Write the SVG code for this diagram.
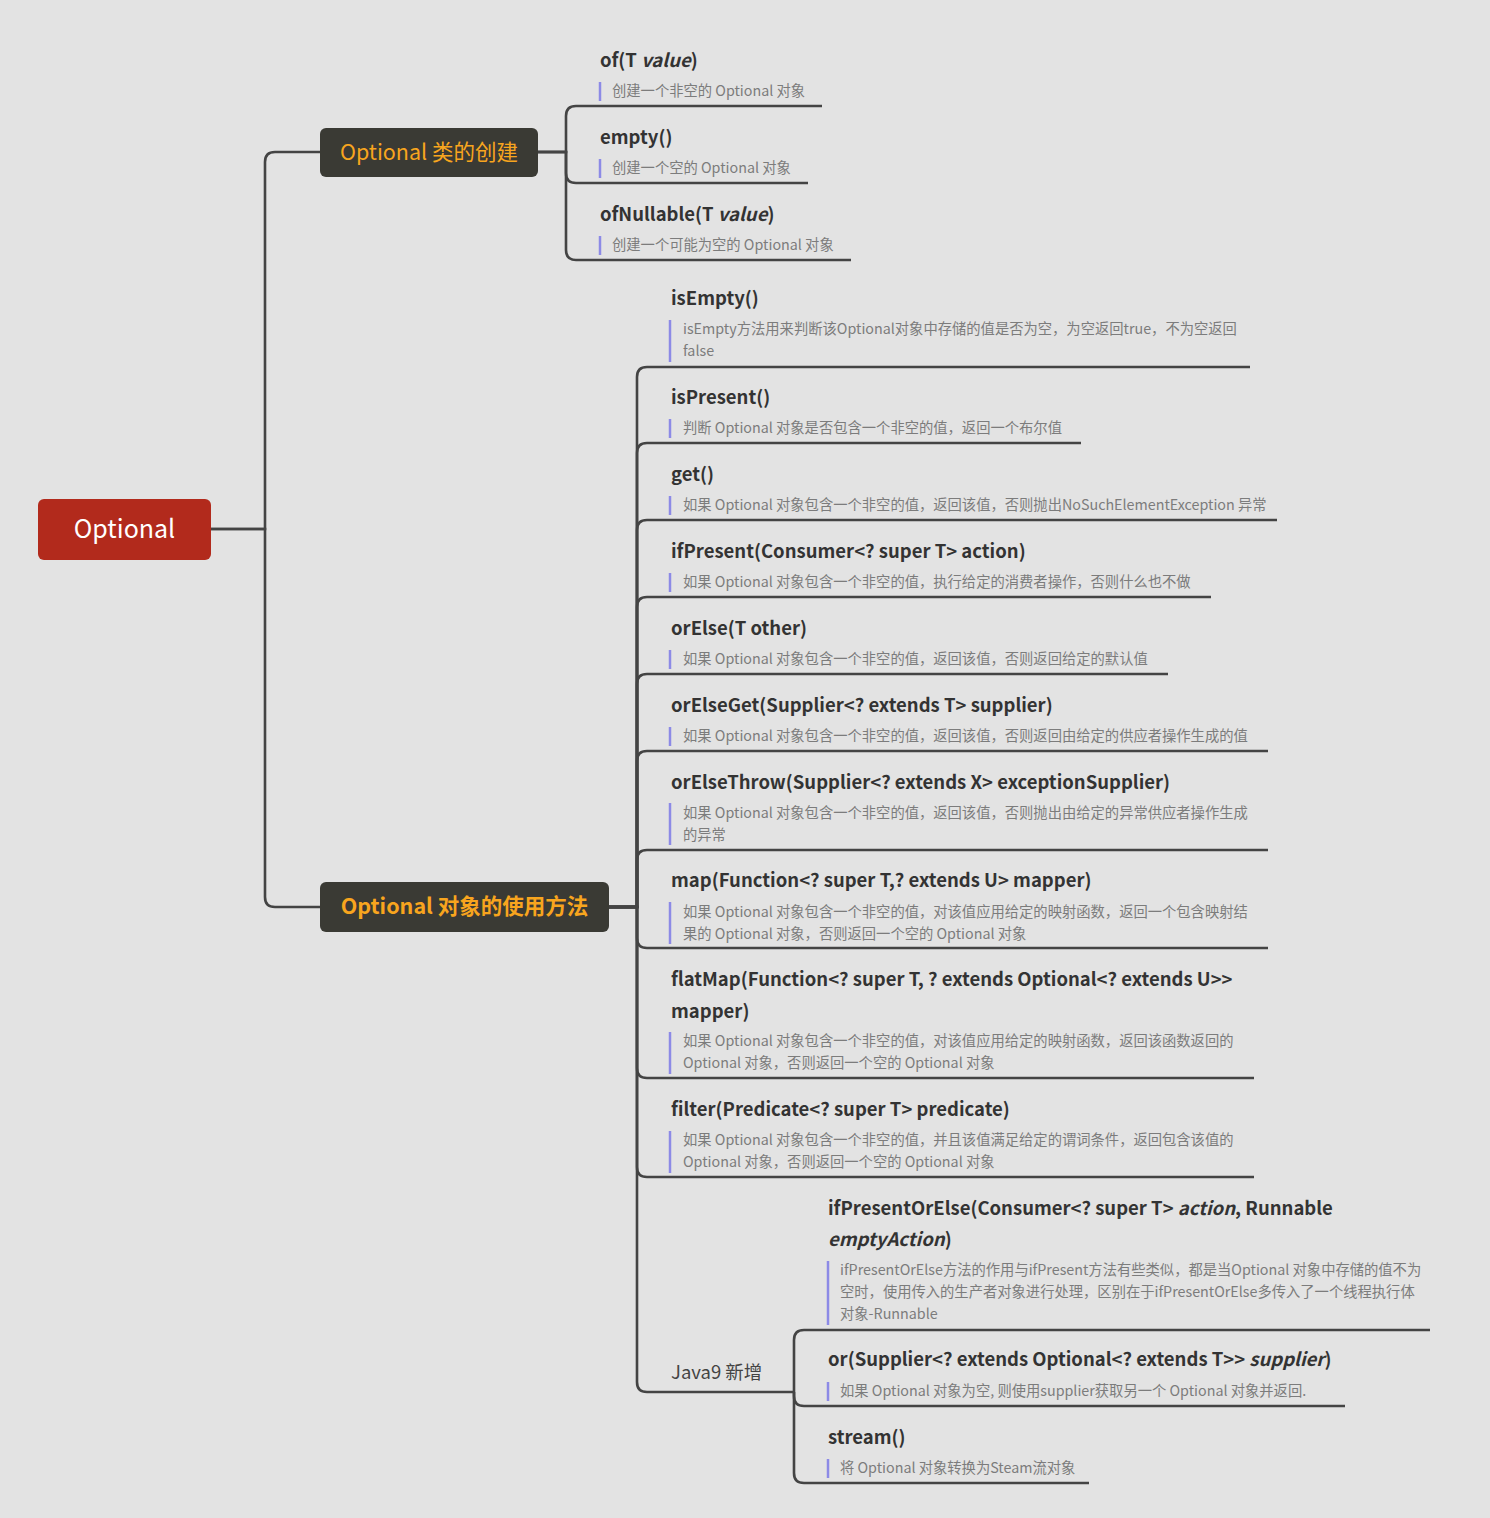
<svg xmlns="http://www.w3.org/2000/svg" width="1490" height="1518" viewBox="0 0 1490 1518">
<style>
.bg{fill:#E3E3E3}
.title{font-family:"Noto Sans CJK SC","Open Sans",sans-serif;font-size:18.5px;font-weight:bold;fill:#333}
.note{font-family:"Noto Sans CJK SC","Open Sans",sans-serif;font-size:14.3px;fill:#7C7C7C}
.bar{stroke:#8C8AE6;stroke-width:2.5}
.ul{stroke:#444;stroke-width:2.6;fill:none}
.conn{stroke:#444;stroke-width:2.6;fill:none}
.it{font-style:italic}
</style>
<rect class="bg" x="0" y="0" width="1490" height="1518"/>

<g id="connectors">
<path class="conn" d="M211,529 H265 V162 Q265,152 275,152 H320"/>
<path class="conn" d="M211,529 H265 V897 Q265,907 275,907 H320"/>
<path class="conn" d="M538,152 H566 V116 Q566,106 576,106"/>
<path class="conn" d="M538,152 H566 V173 Q566,183 576,183"/>
<path class="conn" d="M538,152 H566 V250 Q566,260 576,260"/>
<path class="conn" d="M609,907 H637 V377 Q637,367 647,367"/>
<path class="conn" d="M609,907 H637 V453 Q637,443 647,443"/>
<path class="conn" d="M609,907 H637 V530 Q637,520 647,520"/>
<path class="conn" d="M609,907 H637 V607 Q637,597 647,597"/>
<path class="conn" d="M609,907 H637 V684 Q637,674 647,674"/>
<path class="conn" d="M609,907 H637 V761 Q637,751 647,751"/>
<path class="conn" d="M609,907 H637 V860 Q637,850 647,850"/>
<path class="conn" d="M609,907 H637 V938 Q637,948 647,948"/>
<path class="conn" d="M609,907 H637 V1068 Q637,1078 647,1078"/>
<path class="conn" d="M609,907 H637 V1167 Q637,1177 647,1177"/>
<path class="conn" d="M609,907 H637 V1382 Q637,1392 647,1392"/>
<path class="conn" d="M794,1392 V1340 Q794,1330 804,1330"/>
<path class="conn" d="M794,1392 V1396 Q794,1406 804,1406"/>
<path class="conn" d="M794,1392 V1473 Q794,1483 804,1483"/>
</g>

<g id="root">
<rect x="38" y="499" width="173" height="61" rx="6" fill="#B22A1C"/>
<text x="124.5" y="538" text-anchor="middle" font-family="'Noto Sans CJK SC','Open Sans',sans-serif" font-size="25" fill="#FFFFFF">Optional</text>
</g>

<g id="branch-create">
<rect x="320" y="128" width="218" height="49" rx="6" fill="#3A3A34"/>
<text x="429" y="160" text-anchor="middle" font-family="'Noto Sans CJK SC','Open Sans',sans-serif" font-size="21.5" fill="#F8A51E">Optional 类的创建</text>
</g>

<g id="branch-usage">
<rect x="320" y="882" width="289" height="50" rx="6" fill="#3A3A34"/>
<text x="464.5" y="914" text-anchor="middle" font-family="'Noto Sans CJK SC','Open Sans',sans-serif" font-size="21.5" font-weight="bold" fill="#F8A51E">Optional 对象的使用方法</text>
</g>

<g id="n-of">
<text class="title" x="600" y="66.5">of(T <tspan class="it">value</tspan>)</text>
<line class="bar" x1="600" y1="82" x2="600" y2="101"/>
<text class="note" x="612" y="96">创建一个非空的 Optional 对象</text>
<path class="ul" d="M576,106 H822"/>
</g>

<g id="n-empty">
<text class="title" x="600" y="143.5">empty()</text>
<line class="bar" x1="600" y1="159" x2="600" y2="178"/>
<text class="note" x="612" y="173">创建一个空的 Optional 对象</text>
<path class="ul" d="M576,183 H808"/>
</g>

<g id="n-ofNullable">
<text class="title" x="600" y="220.5">ofNullable(T <tspan class="it">value</tspan>)</text>
<line class="bar" x1="600" y1="236" x2="600" y2="255"/>
<text class="note" x="612" y="250">创建一个可能为空的 Optional 对象</text>
<path class="ul" d="M576,260 H851"/>
</g>

<g id="n-isEmpty">
<text class="title" x="671" y="304.5">isEmpty()</text>
<line class="bar" x1="670" y1="320" x2="670" y2="362"/>
<text class="note" x="683" y="334">isEmpty方法用来判断该Optional对象中存储的值是否为空，为空返回true，不为空返回</text>
<text class="note" x="683" y="356">false</text>
<path class="ul" d="M647,367 H1250"/>
</g>

<g id="n-isPresent">
<text class="title" x="671" y="403.5">isPresent()</text>
<line class="bar" x1="670" y1="419" x2="670" y2="438"/>
<text class="note" x="683" y="433">判断 Optional 对象是否包含一个非空的值，返回一个布尔值</text>
<path class="ul" d="M647,443 H1081"/>
</g>

<g id="n-get">
<text class="title" x="671" y="480.5">get()</text>
<line class="bar" x1="670" y1="496" x2="670" y2="515"/>
<text class="note" x="683" y="510">如果 Optional 对象包含一个非空的值，返回该值，否则抛出NoSuchElementException 异常</text>
<path class="ul" d="M647,520 H1277"/>
</g>

<g id="n-ifPresent">
<text class="title" x="671" y="557.5">ifPresent(Consumer&lt;? super T&gt; action)</text>
<line class="bar" x1="670" y1="573" x2="670" y2="592"/>
<text class="note" x="683" y="587">如果 Optional 对象包含一个非空的值，执行给定的消费者操作，否则什么也不做</text>
<path class="ul" d="M647,597 H1211"/>
</g>

<g id="n-orElse">
<text class="title" x="671" y="634.5">orElse(T other)</text>
<line class="bar" x1="670" y1="650" x2="670" y2="669"/>
<text class="note" x="683" y="664">如果 Optional 对象包含一个非空的值，返回该值，否则返回给定的默认值</text>
<path class="ul" d="M647,674 H1168"/>
</g>

<g id="n-orElseGet">
<text class="title" x="671" y="711.5">orElseGet(Supplier&lt;? extends T&gt; supplier)</text>
<line class="bar" x1="670" y1="727" x2="670" y2="746"/>
<text class="note" x="683" y="741">如果 Optional 对象包含一个非空的值，返回该值，否则返回由给定的供应者操作生成的值</text>
<path class="ul" d="M647,751 H1268"/>
</g>

<g id="n-orElseThrow">
<text class="title" x="671" y="788.5">orElseThrow(Supplier&lt;? extends X&gt; exceptionSupplier)</text>
<line class="bar" x1="670" y1="803" x2="670" y2="845"/>
<text class="note" x="683" y="818">如果 Optional 对象包含一个非空的值，返回该值，否则抛出由给定的异常供应者操作生成</text>
<text class="note" x="683" y="840">的异常</text>
<path class="ul" d="M647,850 H1268"/>
</g>

<g id="n-map">
<text class="title" x="671" y="886.5">map(Function&lt;? super T,? extends U&gt; mapper)</text>
<line class="bar" x1="670" y1="902" x2="670" y2="944"/>
<text class="note" x="683" y="917">如果 Optional 对象包含一个非空的值，对该值应用给定的映射函数，返回一个包含映射结</text>
<text class="note" x="683" y="939">果的 Optional 对象，否则返回一个空的 Optional 对象</text>
<path class="ul" d="M647,948 H1268"/>
</g>

<g id="n-flatMap">
<text class="title" x="671" y="985.5">flatMap(Function&lt;? super T, ? extends Optional&lt;? extends U&gt;&gt;</text>
<text class="title" x="671" y="1017.5">mapper)</text>
<line class="bar" x1="670" y1="1032" x2="670" y2="1074"/>
<text class="note" x="683" y="1046">如果 Optional 对象包含一个非空的值，对该值应用给定的映射函数，返回该函数返回的</text>
<text class="note" x="683" y="1068">Optional 对象，否则返回一个空的 Optional 对象</text>
<path class="ul" d="M647,1078 H1254"/>
</g>

<g id="n-filter">
<text class="title" x="671" y="1115.5">filter(Predicate&lt;? super T&gt; predicate)</text>
<line class="bar" x1="670" y1="1131" x2="670" y2="1173"/>
<text class="note" x="683" y="1145">如果 Optional 对象包含一个非空的值，并且该值满足给定的谓词条件，返回包含该值的</text>
<text class="note" x="683" y="1167">Optional 对象，否则返回一个空的 Optional 对象</text>
<path class="ul" d="M647,1177 H1254"/>
</g>

<g id="n-java9">
<text x="671" y="1379" font-family="'Noto Sans CJK SC','Open Sans',sans-serif" font-size="18.5" fill="#444">Java9 新增</text>
<path class="ul" d="M647,1392 H794"/>
</g>

<g id="n-ifPresentOrElse">
<text class="title" x="828" y="1214.5">ifPresentOrElse(Consumer&lt;? super T&gt; <tspan class="it">action</tspan>, Runnable</text>
<text class="title" x="828" y="1245.5"><tspan class="it">emptyAction</tspan>)</text>
<line class="bar" x1="828" y1="1261" x2="828" y2="1325"/>
<text class="note" x="840" y="1275">ifPresentOrElse方法的作用与ifPresent方法有些类似，都是当Optional 对象中存储的值不为</text>
<text class="note" x="840" y="1297">空时，使用传入的生产者对象进行处理，区别在于ifPresentOrElse多传入了一个线程执行体</text>
<text class="note" x="840" y="1319">对象-Runnable</text>
<path class="ul" d="M804,1330 H1430"/>
</g>

<g id="n-or">
<text class="title" x="828" y="1365.5">or(Supplier&lt;? extends Optional&lt;? extends T&gt;&gt; <tspan class="it">supplier</tspan>)</text>
<line class="bar" x1="828" y1="1382" x2="828" y2="1401"/>
<text class="note" x="840" y="1396">如果 Optional 对象为空, 则使用supplier获取另一个 Optional 对象并返回.</text>
<path class="ul" d="M804,1406 H1345"/>
</g>

<g id="n-stream">
<text class="title" x="828" y="1443.5">stream()</text>
<line class="bar" x1="828" y1="1459" x2="828" y2="1478"/>
<text class="note" x="840" y="1473">将 Optional 对象转换为Steam流对象</text>
<path class="ul" d="M804,1483 H1089"/>
</g>
</svg>
